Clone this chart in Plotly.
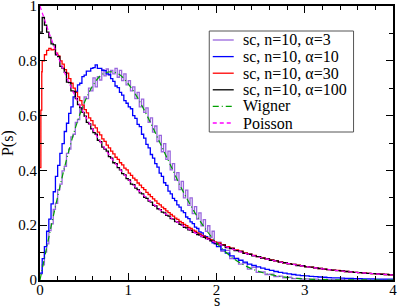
import plotly.graph_objects as go

# ---------------- data ----------------
# histogram bin edges: width 0.025 for s < 2, width 0.05 for 2 <= s <= 4
bin_edges = [round(0.025 * i, 3) for i in range(81)] + [round(2.0 + 0.05 * i, 2) for i in range(1, 41)]
# alpha=30 has extra fine bins right at s=0
red_edges = [0.0, 0.01, 0.02] + bin_edges[1:]

p_alpha3 = [
    0.022, 0.055, 0.102, 0.132, 0.180, 0.205, 0.258, 0.280, 0.330, 0.350,
    0.398, 0.415, 0.462, 0.478, 0.522, 0.532, 0.575, 0.585, 0.622, 0.628,
    0.668, 0.662, 0.700, 0.690, 0.738, 0.705, 0.742, 0.730, 0.768, 0.745,
    0.770, 0.748, 0.765, 0.752, 0.772, 0.740, 0.765, 0.728, 0.752, 0.712,
    0.728, 0.690, 0.705, 0.662, 0.685, 0.632, 0.660, 0.612, 0.628, 0.575,
    0.592, 0.540, 0.562, 0.505, 0.528, 0.468, 0.498, 0.440, 0.470, 0.402,
    0.425, 0.365, 0.392, 0.330, 0.360, 0.300, 0.328, 0.272, 0.300, 0.242,
    0.268, 0.222, 0.245, 0.198, 0.220, 0.178, 0.198, 0.155, 0.178, 0.132,
    0.138, 0.105, 0.108, 0.078, 0.080, 0.058, 0.062, 0.040, 0.046, 0.028,
    0.030, 0.020, 0.021, 0.012, 0.014, 0.008, 0.010, 0.005, 0.006, 0.003,
    0.004, 0.002, 0.003, 0.001, 0.002, 0.001, 0.001, 0.000, 0.001, 0.000,
    0.001, 0.000, 0.000, 0.001, 0.000, 0.000, 0.000, 0.000, 0.000, 0.000,
]

p_alpha10 = [
    0.025, 0.078, 0.122, 0.178, 0.222, 0.278, 0.322, 0.378, 0.418, 0.462,
    0.498, 0.542, 0.572, 0.608, 0.632, 0.668, 0.688, 0.712, 0.718, 0.742,
    0.748, 0.762, 0.762, 0.772, 0.775, 0.785, 0.772, 0.772, 0.765, 0.764,
    0.752, 0.750, 0.735, 0.725, 0.708, 0.702, 0.685, 0.675, 0.655, 0.645,
    0.632, 0.625, 0.600, 0.590, 0.568, 0.560, 0.532, 0.518, 0.495, 0.482,
    0.458, 0.445, 0.425, 0.412, 0.390, 0.378, 0.355, 0.345, 0.324, 0.314,
    0.298, 0.290, 0.274, 0.266, 0.252, 0.246, 0.230, 0.224, 0.212, 0.206,
    0.193, 0.188, 0.176, 0.172, 0.161, 0.158, 0.149, 0.146, 0.136, 0.133,
    0.122, 0.110, 0.098, 0.088, 0.078, 0.072, 0.065, 0.058, 0.053, 0.048,
    0.043, 0.039, 0.035, 0.031, 0.028, 0.025, 0.022, 0.020, 0.018, 0.016,
    0.015, 0.013, 0.012, 0.011, 0.010, 0.009, 0.008, 0.008, 0.007, 0.006,
    0.006, 0.005, 0.005, 0.004, 0.004, 0.004, 0.003, 0.003, 0.003, 0.003,
]

p_alpha30 = [
    0.410, 0.620, 0.760,
    0.800, 0.822, 0.838, 0.845, 0.840, 0.842, 0.828, 0.818, 0.800,
    0.788, 0.768, 0.755, 0.735, 0.718, 0.700, 0.685, 0.668, 0.655, 0.638,
    0.622, 0.610, 0.592, 0.582, 0.565, 0.555, 0.540, 0.530, 0.515, 0.506,
    0.492, 0.482, 0.470, 0.460, 0.448, 0.440, 0.428, 0.420, 0.408, 0.402,
    0.390, 0.382, 0.372, 0.365, 0.354, 0.346, 0.337, 0.330, 0.320, 0.312,
    0.304, 0.296, 0.289, 0.280, 0.274, 0.266, 0.260, 0.252, 0.246, 0.239,
    0.233, 0.226, 0.221, 0.214, 0.209, 0.203, 0.198, 0.192, 0.188, 0.182,
    0.178, 0.172, 0.168, 0.163, 0.159, 0.155, 0.151, 0.147, 0.143, 0.139,
    0.135, 0.129, 0.122, 0.116, 0.110, 0.105, 0.099, 0.094, 0.090, 0.085,
    0.081, 0.077, 0.073, 0.070, 0.066, 0.063, 0.060, 0.057, 0.054, 0.052,
    0.049, 0.047, 0.044, 0.042, 0.040, 0.038, 0.036, 0.035, 0.033, 0.031,
    0.030, 0.028, 0.027, 0.026, 0.024, 0.023, 0.022, 0.021, 0.020, 0.019,
]

p_alpha100 = [
    0.905, 0.958, 0.930, 0.905, 0.885, 0.862, 0.858, 0.822, 0.815, 0.780,
    0.772, 0.758, 0.722, 0.720, 0.690, 0.688, 0.662, 0.640, 0.628, 0.612,
    0.598, 0.575, 0.570, 0.552, 0.538, 0.532, 0.510, 0.505, 0.485, 0.478,
    0.470, 0.450, 0.445, 0.428, 0.425, 0.410, 0.402, 0.388, 0.384, 0.370,
    0.365, 0.350, 0.348, 0.335, 0.330, 0.318, 0.314, 0.302, 0.298, 0.288,
    0.284, 0.272, 0.270, 0.260, 0.257, 0.248, 0.245, 0.236, 0.233, 0.224,
    0.222, 0.213, 0.211, 0.203, 0.200, 0.192, 0.190, 0.183, 0.181, 0.174,
    0.173, 0.166, 0.164, 0.158, 0.156, 0.151, 0.149, 0.143, 0.142, 0.136,
    0.131, 0.127, 0.118, 0.115, 0.107, 0.104, 0.097, 0.094, 0.088, 0.085,
    0.080, 0.077, 0.072, 0.070, 0.065, 0.063, 0.059, 0.057, 0.053, 0.052,
    0.048, 0.047, 0.044, 0.042, 0.040, 0.038, 0.036, 0.034, 0.033, 0.031,
    0.030, 0.028, 0.027, 0.025, 0.024, 0.023, 0.022, 0.021, 0.020, 0.019,
]

# reference curves, tabulated at s = 0, 0.1, ..., 4.0
s_curve = [round(0.1 * i, 1) for i in range(41)]
p_wigner = [
    0.0000, 0.1558, 0.3044, 0.4391, 0.5541, 0.6454, 0.7103, 0.7493, 0.7600, 0.7498,
    0.7161, 0.6683, 0.6081, 0.5415, 0.4725, 0.4046, 0.3365, 0.2760, 0.2220, 0.1752,
    0.1358, 0.1033, 0.0772, 0.0567, 0.0409, 0.0290, 0.0202, 0.0138, 0.0093, 0.0062,
    0.0040, 0.0025, 0.0016, 0.0010, 0.0006, 0.0004, 0.0002, 0.0001, 0.0001, 0.0000,
    0.0000,
]
p_poisson = [
    1.0000, 0.9048, 0.8187, 0.7408, 0.6703, 0.6065, 0.5488, 0.4966, 0.4493, 0.4066,
    0.3679, 0.3329, 0.3012, 0.2725, 0.2466, 0.2231, 0.2019, 0.1827, 0.1653, 0.1496,
    0.1353, 0.1225, 0.1108, 0.1003, 0.0907, 0.0821, 0.0743, 0.0672, 0.0608, 0.0550,
    0.0498, 0.0450, 0.0408, 0.0369, 0.0334, 0.0302, 0.0273, 0.0247, 0.0224, 0.0202,
    0.0183,
]

labels = ["sc, n=10, α=3", "sc, n=10, α=10", "sc, n=10, α=30", "sc, n=10, α=100",
          "Wigner", "Poisson"]
x_ticks = [0, 1, 2, 3, 4]
y_ticks = [0, 0.2, 0.4, 0.6, 0.8, 1]
y_ticklabels = ["0", "0.2", "0.4", "0.6", "0.8", "1"]
x_title = "s"
y_title = "P(s)"

# ---------------- figure ----------------
FONT = "Liberation Serif"
W, H = 399, 306
ML, MR, MT, MB = 40, 5.5, 6, 26
PW, PH = W - ML - MR, H - MT - MB


def px_to_paper(px, py):
    return (px - ML) / PW, (H - MB - py) / PH


def steps(edges, vals):
    assert len(edges) == len(vals) + 1, (len(edges), len(vals))
    return list(edges), list(vals) + [vals[-1]]


colors = ["#9966dd", "#0000ff", "#ff0000", "#000000", "#00a000", "#ff00ff"]
dashes = ["solid", "solid", "solid", "solid", "6px,3px,1px,3px", "4px,3px"]

fig = go.Figure()
hist_series = [
    (bin_edges, p_alpha3),
    (bin_edges, p_alpha10),
    (red_edges, p_alpha30),
    (bin_edges, p_alpha100),
]
for i, (edges, vals) in enumerate(hist_series):
    xs, ys = steps(edges, vals)
    fig.add_trace(go.Scatter(x=xs, y=ys, mode="lines", name=labels[i],
                             line=dict(color=colors[i], width=1.3, shape="hv")))

fig.add_trace(go.Scatter(x=s_curve, y=p_wigner, mode="lines", name=labels[4],
                         line=dict(color=colors[4], width=1.2, dash=dashes[4],
                                   shape="spline")))
fig.add_trace(go.Scatter(x=s_curve, y=p_poisson, mode="lines", name=labels[5],
                         line=dict(color=colors[5], width=1.2, dash=dashes[5],
                                   shape="spline")))

axis_common = dict(
    showgrid=False, zeroline=False, showline=True, linecolor="black", linewidth=2,
    mirror="allticks", ticks="inside", ticklen=7, tickwidth=1, tickcolor="black",
    tickfont=dict(family=FONT, size=15, color="black"),
    ticklabeloverflow="allow", automargin=False,
)
fig.update_xaxes(range=[0, 4], tickvals=x_ticks, ticktext=[str(t) for t in x_ticks],
                 minor=dict(ticks="inside", ticklen=4, dtick=0.2, tickcolor="black"),
                 ticklabelstandoff=-5, **axis_common)
fig.update_yaxes(range=[0, 1], tickvals=y_ticks, ticktext=y_ticklabels,
                 minor=dict(ticks="inside", ticklen=4, dtick=0.1, tickcolor="black"),
                 ticklabelstandoff=-2, **axis_common)

# axis titles
tx, ty = px_to_paper(217, 300)
fig.add_annotation(text=x_title, xref="paper", yref="paper", x=tx, y=ty,
                   xanchor="center", yanchor="middle", showarrow=False,
                   font=dict(family=FONT, size=16, color="black"))
tx, ty = px_to_paper(8, 143)
fig.add_annotation(text=y_title, xref="paper", yref="paper", x=tx, y=ty,
                   xanchor="center", yanchor="middle", showarrow=False, textangle=-90,
                   font=dict(family=FONT, size=16, color="black"))

# legend box (drawn to match the reference's compact legend)
bx0, by0 = px_to_paper(209.5, 132)
bx1, by1 = px_to_paper(354, 31)
fig.add_shape(type="rect", xref="paper", yref="paper", x0=bx0, y0=by0, x1=bx1, y1=by1,
              line=dict(color="#555555", width=1), fillcolor="white", layer="above")
row_y = [40, 56.6, 73.2, 89.8, 106.4, 123]
for i, lab in enumerate(labels):
    lx0, ly = px_to_paper(213, row_y[i])
    lx1, _ = px_to_paper(234, row_y[i])
    fig.add_shape(type="line", xref="paper", yref="paper", x0=lx0, x1=lx1, y0=ly, y1=ly,
                  line=dict(color=colors[i], width=1.3, dash=dashes[i]), layer="above")
    txx, _ = px_to_paper(241, row_y[i])
    fig.add_annotation(text=lab, xref="paper", yref="paper", x=txx, y=ly,
                       xanchor="left", yanchor="middle", showarrow=False,
                       font=dict(family=FONT, size=16, color="black"))

fig.update_layout(
    width=W, height=H,
    margin=dict(l=ML, r=MR, t=MT, b=MB, pad=0),
    paper_bgcolor="white", plot_bgcolor="white",
    font=dict(family=FONT, size=15, color="black"),
    showlegend=False,
)

fig.write_html("out.html", config={"displayModeBar": False},
               post_script="document.body.style.margin='0px';")
